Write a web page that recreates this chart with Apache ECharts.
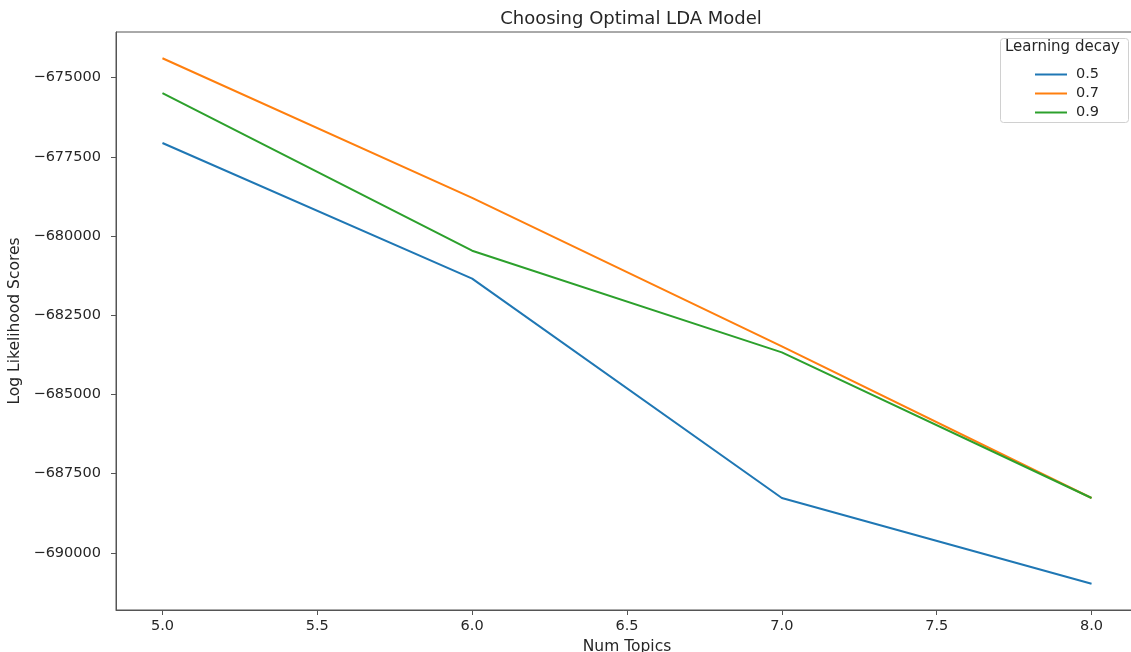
<!DOCTYPE html>
<html>
<head>
<meta charset="utf-8">
<script src="https://cdn.jsdelivr.net/npm/echarts@6/dist/echarts.min.js"></script>
<style>
html,body{margin:0;padding:0;background:#fff;}
#chart{width:1131px;height:652px;}
</style>
</head>
<body>
<div id="chart"></div>
<script>
const numTopics = [5, 6, 7, 8];
const decay05 = [-677062, -681343, -688268, -690974];
const decay07 = [-674386, -678793, -683483, -688268];
const decay09 = [-675488, -680461, -683672, -688268];
const seriesNames = ['0.5', '0.7', '0.9'];
const xTicks = [5.0, 5.5, 6.0, 6.5, 7.0, 7.5, 8.0];
const yTicks = [-690000, -687500, -685000, -682500, -680000, -677500, -675000];

const colors = ['#1f77b4', '#ff7f0e', '#2ca02c'];
const txt = '#262626';
const font = 'DejaVu Sans';

function pairs(vals) { return numTopics.map((x, i) => [x, vals[i]]); }

const chart = echarts.init(document.getElementById('chart'), null, {renderer: 'canvas'});
chart.setOption({
  animation: false,
  backgroundColor: '#fff',
  textStyle: {fontFamily: font},
  title: {
    text: 'Choosing Optimal LDA Model',
    left: 626, top: 5, textAlign: 'center',
    textStyle: {fontFamily: font, fontSize: 18, fontWeight: 'normal', color: txt}
  },
  grid: {
    left: 116, right: -7, top: 32, bottom: 42,
    outerBoundsMode: 'none', containLabel: false,
    show: true, borderColor: '#555', borderWidth: 1
  },
  legend: {
    data: seriesNames,
    orient: 'vertical',
    left: 1030, top: 62,
    itemWidth: 32, itemHeight: 2, itemGap: 4,
    icon: 'rect',
    textStyle: {fontFamily: font, fontSize: 14.5, color: txt, padding: [0, 0, 0, 4]}
  },
  graphic: [
    {type: 'rect', shape: {x: 1000.5, y: 38.5, width: 128, height: 84, r: 3},
     style: {fill: 'rgba(255,255,255,0.8)', stroke: '#d0d0d0', lineWidth: 1}, z: 0},
    {type: 'text', left: 1005, top: 40,
     style: {text: 'Learning decay', fontFamily: font, fontSize: 15, fill: txt}, z: 1}
  ],
  xAxis: {
    type: 'value', min: 4.85, max: 8.15,
    name: 'Num Topics', nameLocation: 'middle', nameGap: 25,
    nameTextStyle: {fontFamily: font, fontSize: 15.5, color: txt},
    axisLine: {show: true, onZero: false, lineStyle: {color: '#555', width: 1}},
    axisTick: {show: true, length: 5, customValues: xTicks, lineStyle: {color: '#555'}},
    axisLabel: {customValues: xTicks, margin: 9, fontFamily: font, fontSize: 14.5, color: txt,
      formatter: v => Number(v).toFixed(1)},
    splitLine: {show: false}
  },
  yAxis: {
    type: 'value', min: -691803, max: -673557,
    name: 'Log Likelihood Scores', nameLocation: 'middle', nameGap: 91,
    nameTextStyle: {fontFamily: font, fontSize: 15.5, color: txt},
    axisLine: {show: true, onZero: false, lineStyle: {color: '#555', width: 1}},
    axisTick: {show: true, length: 5, customValues: yTicks, lineStyle: {color: '#555'}},
    axisLabel: {customValues: yTicks, margin: 15, fontFamily: font, fontSize: 14.5, color: txt,
      formatter: v => (v < 0 ? '\u2212' : '') + Math.abs(v)},
    splitLine: {show: false}
  },
  series: [
    {name: seriesNames[0], type: 'line', data: pairs(decay05), symbol: 'none',
     lineStyle: {color: colors[0], width: 2}, itemStyle: {color: colors[0]}},
    {name: seriesNames[1], type: 'line', data: pairs(decay07), symbol: 'none',
     lineStyle: {color: colors[1], width: 2}, itemStyle: {color: colors[1]}},
    {name: seriesNames[2], type: 'line', data: pairs(decay09), symbol: 'none',
     lineStyle: {color: colors[2], width: 2}, itemStyle: {color: colors[2]}}
  ]
});
</script>
</body>
</html>
